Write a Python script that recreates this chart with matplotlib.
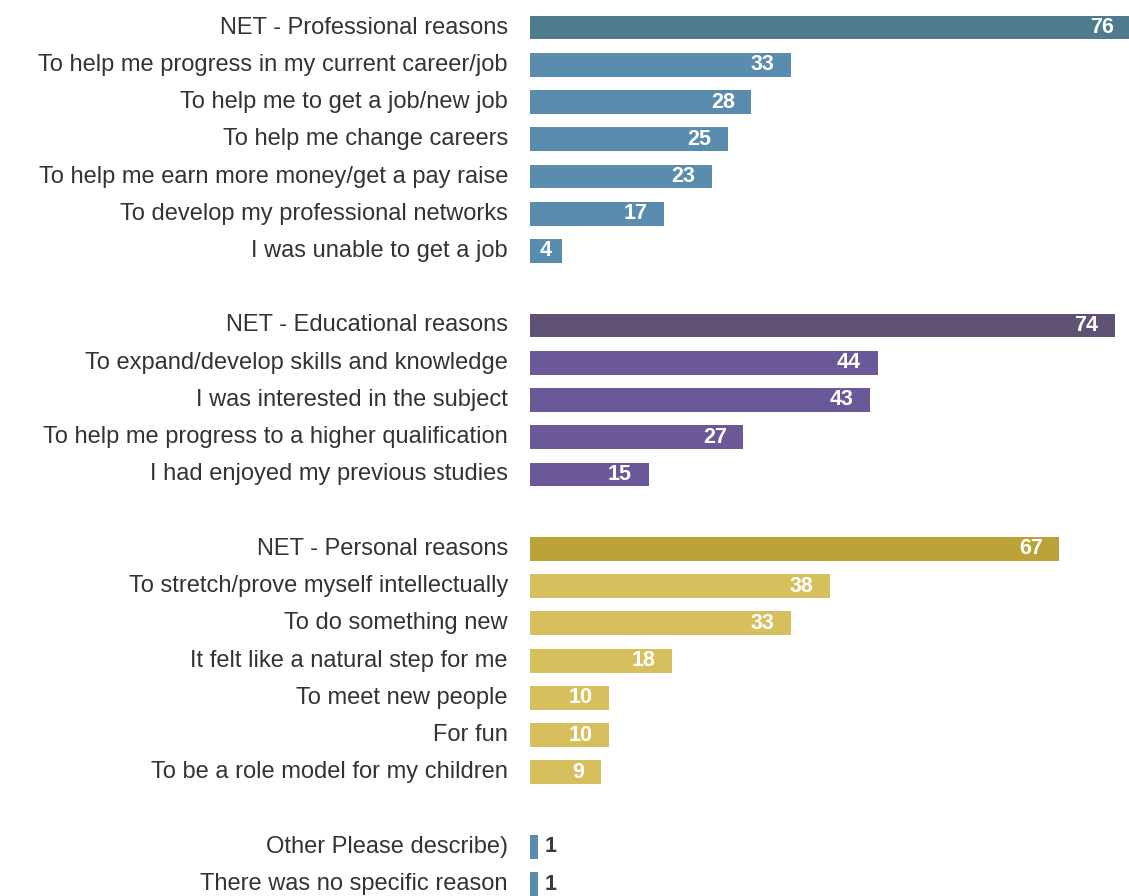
import matplotlib.pyplot as plt

plt.rcParams['font.family'] = ['Liberation Sans', 'DejaVu Sans']

# survey answers, grouped; None marks the blank spacer row between groups
labels = [
    "NET - Professional reasons",
    "To help me progress in my current career/job",
    "To help me to get a job/new job",
    "To help me change careers",
    "To help me earn more money/get a pay raise",
    "To develop my professional networks",
    "I was unable to get a job",
    None,
    "NET - Educational reasons",
    "To expand/develop skills and knowledge",
    "I was interested in the subject",
    "To help me progress to a higher qualification",
    "I had enjoyed my previous studies",
    None,
    "NET - Personal reasons",
    "To stretch/prove myself intellectually",
    "To do something new",
    "It felt like a natural step for me",
    "To meet new people",
    "For fun",
    "To be a role model for my children",
    None,
    "Other Please describe)",
    "There was no specific reason",
]
values = [76, 33, 28, 25, 23, 17, 4, None,
          74, 44, 43, 27, 15, None,
          67, 38, 33, 18, 10, 10, 9, None,
          1, 1]
groups = ["prof_net", "prof", "prof", "prof", "prof", "prof", "prof", None,
          "edu_net", "edu", "edu", "edu", "edu", None,
          "pers_net", "pers", "pers", "pers", "pers", "pers", "pers", None,
          "other", "other"]

colours = {
    "prof_net": "#4e7c8c",
    "prof": "#5a8cad",
    "edu_net": "#5f5275",
    "edu": "#6a5898",
    "pers_net": "#bba339",
    "pers": "#d7bf5e",
    "other": "#5a8cad",
}

fig = plt.figure(figsize=(11.29, 8.96), dpi=100)
ax = fig.add_axes([530 / 1129, 0, 599 / 1129, 1])

for i, (lab, val, grp) in enumerate(zip(labels, values, groups)):
    if lab is None:
        continue
    ax.barh(i, val, height=0.64, color=colours[grp])
    ax.text(-22 / 7.9, i, lab, ha='right', va='center', fontsize=17,
            color='#333333')
    if grp == "other":
        ax.text(val + 0.8, i, str(val), ha='left', va='center', fontsize=15.5,
                fontweight='bold', color='#3a3a3a')
    elif val < 6:
        ax.text(val / 2, i, str(val), ha='center', va='center', fontsize=15.5,
                fontweight='bold', color='white')
    else:
        ax.text(val - 2.1, i, str(val), ha='right', va='center', fontsize=15.5,
                fontweight='bold', color='white')

ax.set_xlim(0, 75.8)
ax.set_ylim(len(labels) - 1 + 0.32, -0.74)
ax.axis('off')

fig.savefig("out.png", dpi=100)
